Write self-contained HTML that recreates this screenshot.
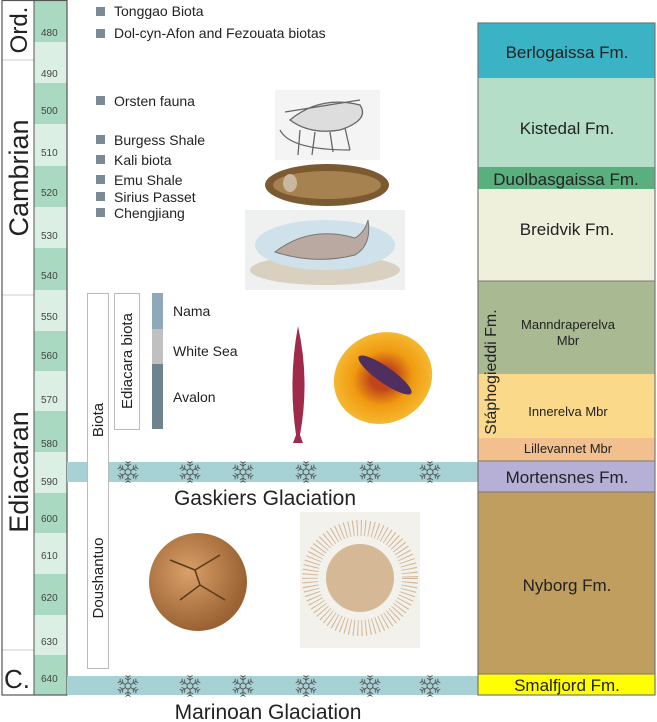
<!DOCTYPE html>
<html><head><meta charset="utf-8"><style>
body{margin:0;background:#fff}
svg{display:block;font-family:"Liberation Sans",sans-serif}
</style></head><body>
<svg width="657" height="722" viewBox="0 0 657 722" xmlns="http://www.w3.org/2000/svg">
<defs>
<g id="sf" fill="none" stroke="#555" stroke-width="0.9">
<circle r="3"/>
<g id="arm"><path d="M0-3V-10M-3-8L0-6 3-8M-2.5-10.5L0-9 2.5-10.5"/></g>
<use href="#arm" transform="rotate(60)"/><use href="#arm" transform="rotate(120)"/>
<use href="#arm" transform="rotate(180)"/><use href="#arm" transform="rotate(240)"/><use href="#arm" transform="rotate(300)"/>
</g>
<radialGradient id="dk" cx="0.5" cy="0.5" r="0.5"><stop offset="0.25" stop-color="#c0461a"/><stop offset="0.6" stop-color="#f09a10"/><stop offset="1" stop-color="#f5b830"/></radialGradient>
<radialGradient id="ball" cx="0.4" cy="0.4" r="0.6"><stop offset="0" stop-color="#d9a06a"/><stop offset="1" stop-color="#9a6232"/></radialGradient>
</defs>
<g font-size="10" fill="#444">
<rect x="34" y="0" width="33" height="42" fill="#a9d9c1"/><text x="41" y="36">480</text>
<rect x="34" y="42" width="33" height="41" fill="#dcefe4"/><text x="41" y="77">490</text>
<rect x="34" y="83" width="33" height="41" fill="#a9d9c1"/><text x="41" y="114">500</text>
<rect x="34" y="124" width="33" height="42" fill="#dcefe4"/><text x="41" y="156">510</text>
<rect x="34" y="166" width="33" height="41" fill="#a9d9c1"/><text x="41" y="196">520</text>
<rect x="34" y="207" width="33" height="41" fill="#dcefe4"/><text x="41" y="239">530</text>
<rect x="34" y="248" width="33" height="42" fill="#a9d9c1"/><text x="41" y="279">540</text>
<rect x="34" y="290" width="33" height="41" fill="#dcefe4"/><text x="41" y="320">550</text>
<rect x="34" y="331" width="33" height="40" fill="#a9d9c1"/><text x="41" y="359">560</text>
<rect x="34" y="371" width="33" height="40" fill="#dcefe4"/><text x="41" y="403">570</text>
<rect x="34" y="411" width="33" height="41" fill="#a9d9c1"/><text x="41" y="447">580</text>
<rect x="34" y="452" width="33" height="41" fill="#dcefe4"/><text x="41" y="485">590</text>
<rect x="34" y="493" width="33" height="40" fill="#a9d9c1"/><text x="41" y="522">600</text>
<rect x="34" y="533" width="33" height="41" fill="#dcefe4"/><text x="41" y="559">610</text>
<rect x="34" y="574" width="33" height="41" fill="#a9d9c1"/><text x="41" y="601">620</text>
<rect x="34" y="615" width="33" height="40" fill="#dcefe4"/><text x="41" y="645">630</text>
<rect x="34" y="655" width="33" height="40" fill="#a9d9c1"/><text x="41" y="682">640</text>
</g>
<g stroke="#ccc" stroke-width="1">
<line x1="2" y1="60" x2="34" y2="60"/><line x1="2" y1="295" x2="34" y2="295"/><line x1="2" y1="650" x2="34" y2="650"/>
</g>
<rect x="2" y="0.5" width="65" height="694.5" fill="none" stroke="#555" stroke-width="1.2"/>
<line x1="34" y1="0" x2="34" y2="695" stroke="#555" stroke-width="1"/>
<g font-size="27" fill="#222">
<text transform="translate(27,30) rotate(-90)" text-anchor="middle" font-size="24">Ord.</text>
<text transform="translate(28,178) rotate(-90)" text-anchor="middle">Cambrian</text>
<text transform="translate(28,472) rotate(-90)" text-anchor="middle">Ediacaran</text>
<text x="4" y="688" font-size="26">C.</text>
</g>
<rect x="67" y="462" width="411" height="20" fill="#a6d1d5"/>
<rect x="67" y="676" width="411" height="19" fill="#a6d1d5"/>
<g>
<use href="#sf" x="128" y="472"/><use href="#sf" x="190" y="472"/><use href="#sf" x="243" y="472"/><use href="#sf" x="306" y="472"/><use href="#sf" x="370" y="472"/><use href="#sf" x="430" y="472"/>
<use href="#sf" x="128" y="686"/><use href="#sf" x="190" y="686"/><use href="#sf" x="243" y="686"/><use href="#sf" x="306" y="686"/><use href="#sf" x="370" y="686"/><use href="#sf" x="430" y="686"/>
</g>
<text x="265" y="505" font-size="21" text-anchor="middle" fill="#222">Gaskiers Glaciation</text>
<text x="268" y="719" font-size="21" text-anchor="middle" fill="#222">Marinoan Glaciation</text>
<g font-size="14" fill="#222">
<g fill="#7a8a96"><rect x="96" y="7" width="9" height="9"/><rect x="96" y="29" width="9" height="9"/><rect x="96" y="96" width="9" height="9"/><rect x="96" y="135" width="9" height="9"/><rect x="96" y="155" width="9" height="9"/><rect x="96" y="175" width="9" height="9"/><rect x="96" y="192" width="9" height="9"/><rect x="96" y="208" width="9" height="9"/></g>
<text x="114" y="16">Tonggao Biota</text>
<text x="114" y="38">Dol-cyn-Afon and Fezouata biotas</text>
<text x="114" y="106">Orsten fauna</text>
<text x="114" y="145">Burgess Shale</text>
<text x="114" y="165">Kali biota</text>
<text x="114" y="185">Emu Shale</text>
<text x="114" y="202">Sirius Passet</text>
<text x="114" y="218">Chengjiang</text>
</g>
<rect x="87.5" y="293.5" width="21" height="375" fill="#fff" stroke="#bbb"/>
<rect x="114.5" y="293.5" width="25" height="136" fill="#fff" stroke="#bbb"/>
<g font-size="15" fill="#222">
<text transform="translate(103,420) rotate(-90)" text-anchor="middle">Biota</text>
<text transform="translate(103,578) rotate(-90)" text-anchor="middle">Doushantuo</text>
<text transform="translate(132,361) rotate(-90)" text-anchor="middle">Ediacara biota</text>
</g>
<rect x="152" y="293" width="11" height="36" fill="#8fa9bb"/>
<rect x="152" y="329" width="11" height="35" fill="#c0c0c0"/>
<rect x="152" y="364" width="11" height="65" fill="#6f838e"/>
<g font-size="14" fill="#222"><text x="173" y="316">Nama</text><text x="173" y="356">White Sea</text><text x="173" y="402">Avalon</text></g>
<rect x="275" y="90" width="105" height="70" fill="#f4f4f4"/>
<g stroke="#666" fill="none" stroke-width="1.3">
<path d="M290 120 Q320 95 360 105 Q370 120 340 130 Q310 135 290 120Z" fill="#ddd"/>
<path d="M300 130 L298 155 M315 132 L312 155 M330 132 L333 152 M345 128 L350 150 M285 112 L360 100 M280 130 Q290 150 350 150"/>
</g>
<ellipse cx="327" cy="185" rx="62" ry="21" fill="#7b5a32"/>
<ellipse cx="327" cy="185" rx="54" ry="14" fill="#a58250"/>
<ellipse cx="290" cy="183" rx="7" ry="9" fill="#c8b8a0"/>
<rect x="245" y="210" width="160" height="80" fill="#eef1f0"/>
<ellipse cx="325" cy="270" rx="75" ry="15" fill="#d9d0c0"/>
<ellipse cx="325" cy="245" rx="70" ry="25" fill="#cfe1ea"/>
<path d="M275 252 Q310 225 355 238 Q365 232 368 220 Q372 245 355 255 Q315 265 275 252Z" fill="#b9a9a0" stroke="#777"/>
<path d="M298 326 Q288 380 296 435 L293 443 L303 443 L300 435 Q310 380 298 326Z" fill="#a02a4a"/>
<ellipse cx="383" cy="378" rx="50" ry="45" fill="url(#dk)" transform="rotate(-25 383 378)"/>
<ellipse cx="385" cy="375" rx="32" ry="8" fill="#4e2f60" transform="rotate(35 385 375)"/>
<circle cx="198" cy="582" r="49" fill="url(#ball)"/>
<path d="M170 560 L195 570 L220 555 M180 600 L200 585 L225 600 M195 570 L200 585" stroke="#5a3a1a" fill="none" stroke-width="1.5"/>
<rect x="300" y="512" width="120" height="136" fill="#f3f1ec"/>
<circle cx="360" cy="578" r="34" fill="#c8a070" opacity="0.7"/>
<circle cx="360" cy="578" r="50" fill="none" stroke="#b88550" stroke-width="16" stroke-dasharray="1 3" opacity="0.55"/>
<rect x="478" y="23" width="177" height="55" fill="#3ab3c4"/>
<rect x="478" y="78" width="177" height="89" fill="#b5dec9"/>
<rect x="478" y="167" width="177" height="22" fill="#5aaf7e"/>
<rect x="478" y="189" width="177" height="92" fill="#eef0dc"/>
<rect x="478" y="281" width="177" height="93" fill="#a9ba92"/>
<rect x="478" y="374" width="177" height="64" fill="#fbd98a"/>
<rect x="478" y="438" width="177" height="23" fill="#f2c08e"/>
<rect x="478" y="461" width="177" height="31" fill="#b7b0d6"/>
<rect x="478" y="492" width="177" height="182" fill="#c09e5f"/>
<rect x="478" y="674" width="177" height="21" fill="#ffff00"/>
<g stroke="#777" stroke-width="1">
<line x1="478" y1="281" x2="655" y2="281"/><line x1="478" y1="461" x2="655" y2="461"/><line x1="478" y1="492" x2="655" y2="492"/><line x1="478" y1="674" x2="655" y2="674"/>
</g>
<rect x="478" y="23" width="177" height="672" fill="none" stroke="#777" stroke-width="1.2"/>
<g fill="#222" text-anchor="middle">
<text x="567" y="58" font-size="17">Berlogaissa Fm.</text>
<text x="567" y="134" font-size="17">Kistedal Fm.</text>
<text x="566" y="185" font-size="17">Duolbasgaissa Fm.</text>
<text x="567" y="235" font-size="17">Breidvik Fm.</text>
<text x="568" y="329" font-size="13">Manndraperelva</text>
<text x="568" y="345" font-size="13">Mbr</text>
<text x="568" y="416" font-size="13">Innerelva Mbr</text>
<text x="568" y="453" font-size="13">Lillevannet Mbr</text>
<text x="567" y="483" font-size="17">Mortensnes Fm.</text>
<text x="567" y="591" font-size="17">Nyborg Fm.</text>
<text x="567" y="691" font-size="17">Smalfjord Fm.</text>
<text transform="translate(496,372) rotate(-90)" font-size="16">Stáphogieddi Fm.</text>
</g>
</svg>
</body></html>
